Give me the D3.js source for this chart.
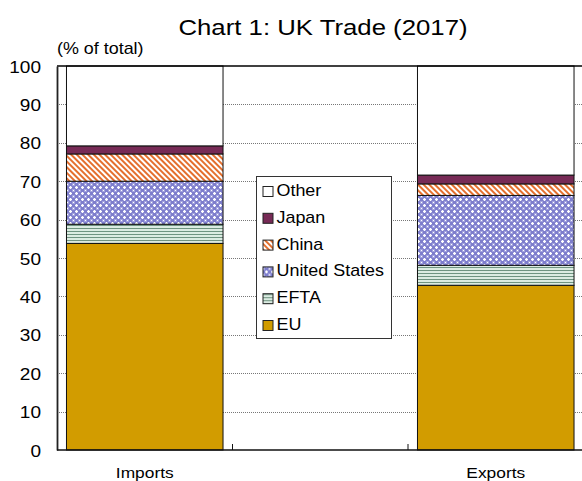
<!DOCTYPE html>
<html>
<head>
<meta charset="utf-8">
<script src="https://cdn.jsdelivr.net/npm/d3@7/dist/d3.min.js"></script>
<style>
  html, body { margin: 0; padding: 0; background: #fff; }
  text { font-family: "Liberation Sans", Arial, sans-serif; fill: #000; }
</style>
</head>
<body>
<svg id="chart" width="582" height="481"></svg>
<script>
// Categories along the x axis (the middle slot is an empty spacer)
const categories = ["Imports", "", "Exports"];
// Share of UK trade by partner, % of total
const euShare     = [53.8, null, 42.9];
const eftaShare   = [5.0,  null, 5.2];
const usShare     = [11.2, null, 18.2];
const chinaShare  = [7.1,  null, 3.0];
const japanShare  = [2.1,  null, 2.3];
const otherShare  = [20.8, null, 28.4];
const seriesNames = ["EU", "EFTA", "United States", "China", "Japan", "Other"];
const yTicks = [0, 10, 20, 30, 40, 50, 60, 70, 80, 90, 100];

const seriesValues = {
  "EU": euShare, "EFTA": eftaShare, "United States": usShare,
  "China": chinaShare, "Japan": japanShare, "Other": otherShare
};

const rows = categories.map((c, i) => {
  const r = { category: c };
  seriesNames.forEach(k => { r[k] = seriesValues[k][i]; });
  return r;
}).filter(r => r.EU !== null);

const svg = d3.select("#chart");
const W = 582, H = 481;
const margin = { top: 66, left: 57, bottom: 31 };
const plotRight = 583.5;
const plotBottom = H - margin.bottom;
const STRETCH = 1.12;

// Fill patterns
const defs = svg.append("defs");
const efta = defs.append("pattern").attr("id", "pat-efta")
  .attr("patternUnits", "userSpaceOnUse").attr("width", 6).attr("height", 3);
efta.append("rect").attr("width", 6).attr("height", 3).attr("fill", "#dcece2");
efta.append("rect").attr("y", 0).attr("width", 6).attr("height", 1).attr("fill", "#6f9481");

const us = defs.append("pattern").attr("id", "pat-us")
  .attr("patternUnits", "userSpaceOnUse").attr("width", 6).attr("height", 6);
us.append("rect").attr("width", 6).attr("height", 6).attr("fill", "#a3a3de");
us.append("rect").attr("width", 3).attr("height", 3).attr("fill", "#7d7dcc");
us.append("rect").attr("x", 3).attr("y", 3).attr("width", 3).attr("height", 3).attr("fill", "#7d7dcc");
us.append("rect").attr("x", 4).attr("y", 0).attr("width", 1).attr("height", 3).attr("fill", "#ffffff");
us.append("rect").attr("x", 3).attr("y", 1).attr("width", 3).attr("height", 1).attr("fill", "#ffffff");
us.append("rect").attr("x", 1).attr("y", 4).attr("width", 1).attr("height", 1).attr("fill", "#ffffff");

const china = defs.append("pattern").attr("id", "pat-china")
  .attr("patternUnits", "userSpaceOnUse").attr("width", 4).attr("height", 4)
  .attr("patternTransform", "rotate(-45)");
china.append("rect").attr("width", 4).attr("height", 4).attr("fill", "#ffffff");
china.append("rect").attr("width", 2).attr("height", 4).attr("fill", "#e46f2e");

const fills = {
  "EU": "#d29c00",
  "EFTA": "url(#pat-efta)",
  "United States": "url(#pat-us)",
  "China": "url(#pat-china)",
  "Japan": "#772a56",
  "Other": "#ffffff"
};

// Scales
const x = d3.scaleBand().domain(categories)
  .range([margin.left, plotRight]).paddingInner(0.108).paddingOuter(0.054);
const y = d3.scaleLinear().domain([0, 100]).range([plotBottom, margin.top]);

// Dotted gridlines
svg.append("g").selectAll("line")
  .data(yTicks.filter(t => t > 0 && t < 100))
  .join("line")
  .attr("x1", margin.left).attr("x2", plotRight)
  .attr("y1", d => Math.round(y(d)) + 0.5).attr("y2", d => Math.round(y(d)) + 0.5)
  .attr("stroke", "#777").attr("stroke-width", 1).attr("stroke-dasharray", "1,1");

// Stacked bars
const stacked = d3.stack().keys(seriesNames)(rows);
svg.append("g").selectAll("g")
  .data(stacked)
  .join("g")
  .attr("fill", d => fills[d.key])
  .selectAll("rect")
  .data(d => d)
  .join("rect")
  .attr("x", d => x(d.data.category))
  .attr("width", x.bandwidth())
  .attr("y", d => y(d[1]))
  .attr("height", d => y(d[0]) - y(d[1]))
  .attr("stroke", "#111").attr("stroke-width", 1);

// Top frame line
svg.append("line")
  .attr("x1", margin.left).attr("x2", plotRight)
  .attr("y1", y(100)).attr("y2", y(100))
  .attr("stroke", "#000").attr("stroke-width", 1.5);

// Y axis
const yAxis = svg.append("g")
  .attr("transform", `translate(${margin.left},0)`)
  .call(d3.axisLeft(y).tickValues(yTicks).tickSize(0).tickPadding(0));
yAxis.select(".domain").attr("stroke", "#222").attr("stroke-width", 1.8);
yAxis.selectAll(".tick text")
  .attr("x", 0).attr("dy", "0.36em")
  .attr("font-size", 17)
  .attr("font-family", "Liberation Sans, Arial, sans-serif")
  .attr("transform", `translate(-16,0) scale(${STRETCH},1)`);

// X axis: baseline with ticks at category boundaries
const xAxisG = svg.append("g");
xAxisG.append("line")
  .attr("x1", margin.left).attr("x2", plotRight)
  .attr("y1", plotBottom).attr("y2", plotBottom)
  .attr("stroke", "#111").attr("stroke-width", 1.5);
const boundaries = categories.slice(1).map(c => x(c) - x.step() * x.paddingInner() / 2);
xAxisG.selectAll("line.tick")
  .data(boundaries)
  .join("line").attr("class", "tick")
  .attr("x1", d => d).attr("x2", d => d)
  .attr("y1", plotBottom).attr("y2", plotBottom - 6)
  .attr("stroke", "#111").attr("stroke-width", 1);
xAxisG.selectAll("text")
  .data(categories.filter(c => c !== ""))
  .join("text")
  .attr("text-anchor", "middle")
  .attr("font-size", 15.5)
  .attr("transform", d => `translate(${x(d) + x.bandwidth() / 2},${plotBottom + 28}) scale(${STRETCH},1)`)
  .text(d => d);

// Title and unit label
svg.append("text")
  .attr("text-anchor", "middle").attr("font-size", 23)
  .attr("transform", `translate(323,35) scale(${STRETCH},1)`)
  .text("Chart 1: UK Trade (2017)");
svg.append("text")
  .attr("font-size", 16)
  .attr("transform", `translate(57,53.5) scale(${STRETCH},1)`)
  .text("(% of total)");

// Legend (Other on top down to EU)
const legend = svg.append("g").attr("transform", "translate(256,176)");
legend.append("rect")
  .attr("x", 0.5).attr("y", 0.5).attr("width", 135).attr("height", 162)
  .attr("fill", "#fff").attr("stroke", "#333").attr("stroke-width", 1);
const legendItems = seriesNames.slice().reverse();
const item = legend.selectAll("g.item")
  .data(legendItems)
  .join("g").attr("class", "item")
  .attr("transform", (d, i) => `translate(0,${20 + i * 26.8})`);
item.append("rect")
  .attr("x", 7).attr("y", -9.5).attr("width", 10).attr("height", 10)
  .attr("fill", d => fills[d]).attr("stroke", "#222").attr("stroke-width", 1);
item.append("text")
  .attr("font-size", 16)
  .attr("transform", `translate(20.5,0) scale(${STRETCH},1)`)
  .text(d => d);
</script>
</body>
</html>
